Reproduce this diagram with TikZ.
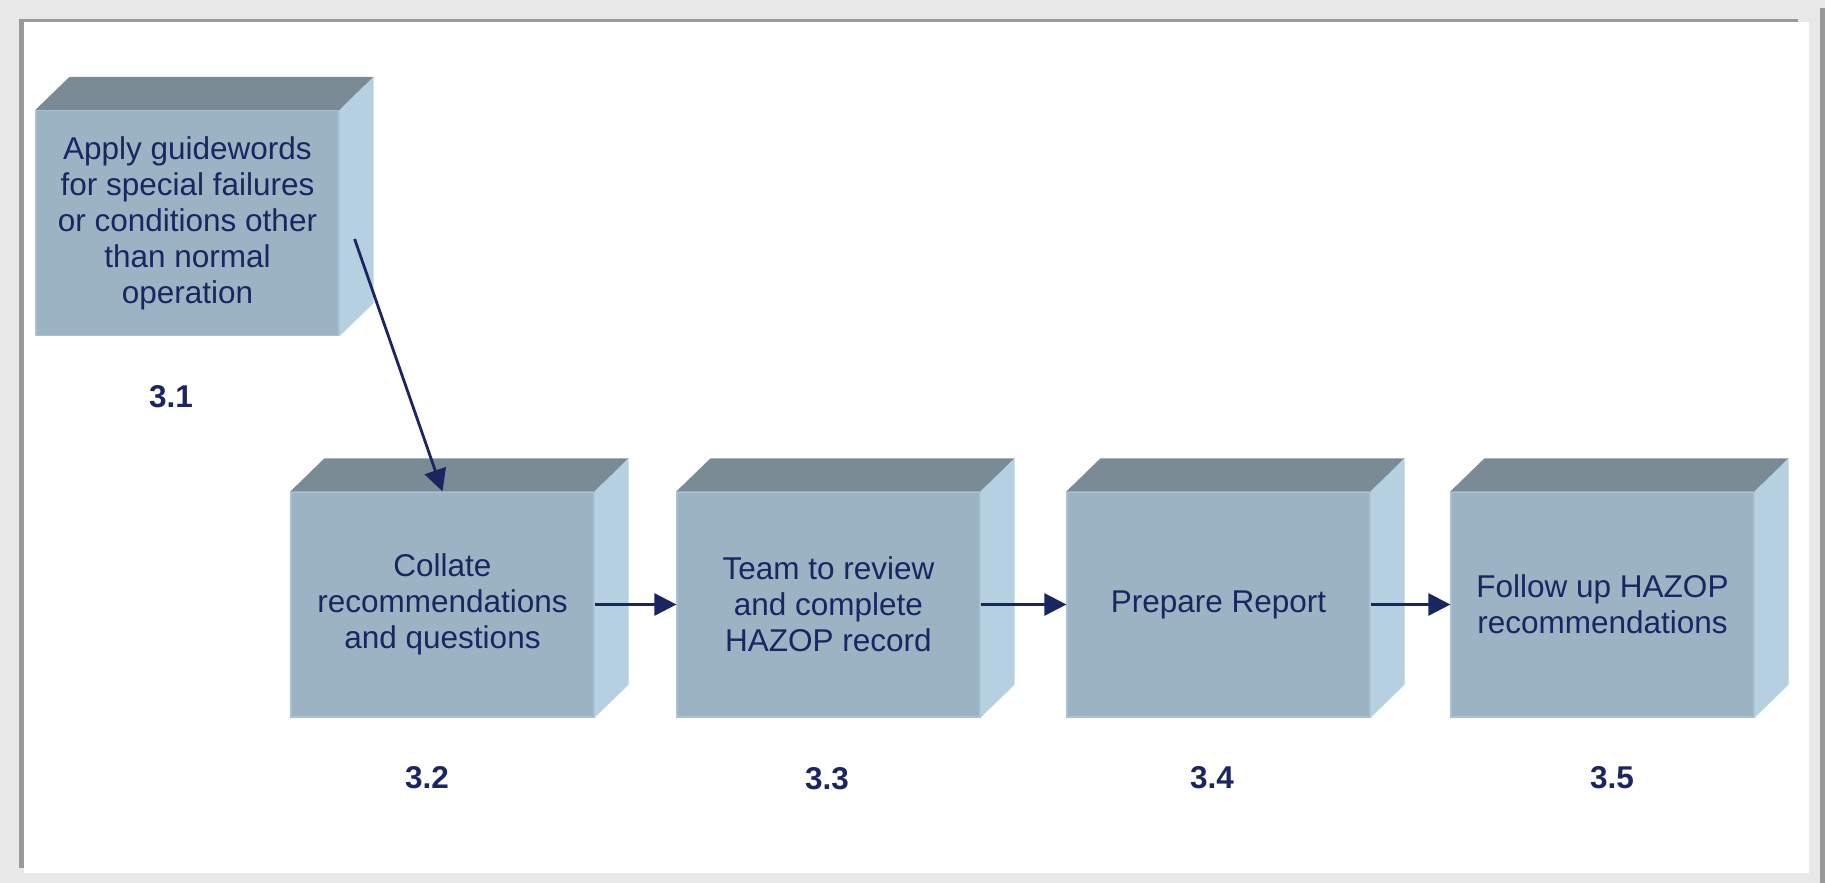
\documentclass[tikz,border=0pt]{standalone}
\usepackage{fontspec}
\setmainfont{Liberation Sans}
\usetikzlibrary{arrows.meta,calc}
\definecolor{framegrey}{HTML}{E8E8E8}
\definecolor{framedark}{HTML}{999999}
\definecolor{boxfront}{HTML}{9CB3C3}
\definecolor{boxtop}{HTML}{7A8B96}
\definecolor{boxside}{HTML}{B4D0E1}
\definecolor{boxedge}{HTML}{A9C1D1}
\definecolor{navy}{HTML}{1B2561}
\tikzset{
 stepbox/.style={rectangle,fill=boxfront,draw=boxedge,line width=1.2pt,minimum width=303pt,minimum height=225pt,inner sep=0pt,text=navy,align=center,font=\fontsize{31.5}{36}\selectfont},
 steplabel/.style={text=navy,font=\fontsize{31.5}{36}\selectfont\bfseries},
 flow/.style={draw=navy,line width=2.8pt,-{Triangle[length=22pt,width=22pt]}}
}
\begin{document}
\begin{tikzpicture}[x=1pt,y=-1pt]
 \useasboundingbox (0,0) rectangle (1825,883);
 \fill[framegrey](0,0) rectangle (1825,883);
 \fill[white](24,22) rectangle (1809,873);
 \fill[framedark](19,19) rectangle (24,868);
 \fill[framedark](19,19) rectangle (1798,22);
 \fill[framedark](1820,8) rectangle (1825,883);

 \node[stepbox] (s31) at (187.5,223) {Apply guidewords\\for special failures\\or conditions other\\than normal\\operation};
 \node[stepbox] (s32) at (442.5,604.5) {Collate\\recommendations\\and questions};
 \node[stepbox] (s33) at (828.5,604.5) {Team to review\\and complete\\HAZOP record};
 \node[stepbox] (s34) at (1218.5,604.5) {Prepare Report};
 \node[stepbox] (s35) at (1602.5,604.5) {Follow up HAZOP\\recommendations};

 \fill[boxtop](s31.north west)--++(34,-33)--($(s31.north east)+(34,-33)$)--(s31.north east)--cycle;
 \fill[boxside](s31.north east)--($(s31.north east)+(34,-33)$)--($(s31.south east)+(34,-33)$)--(s31.south east)--cycle;
 \fill[boxtop](s32.north west)--++(34,-33)--($(s32.north east)+(34,-33)$)--(s32.north east)--cycle;
 \fill[boxside](s32.north east)--($(s32.north east)+(34,-33)$)--($(s32.south east)+(34,-33)$)--(s32.south east)--cycle;
 \fill[boxtop](s33.north west)--++(34,-33)--($(s33.north east)+(34,-33)$)--(s33.north east)--cycle;
 \fill[boxside](s33.north east)--($(s33.north east)+(34,-33)$)--($(s33.south east)+(34,-33)$)--(s33.south east)--cycle;
 \fill[boxtop](s34.north west)--++(34,-33)--($(s34.north east)+(34,-33)$)--(s34.north east)--cycle;
 \fill[boxside](s34.north east)--($(s34.north east)+(34,-33)$)--($(s34.south east)+(34,-33)$)--(s34.south east)--cycle;
 \fill[boxtop](s35.north west)--++(34,-33)--($(s35.north east)+(34,-33)$)--(s35.north east)--cycle;
 \fill[boxside](s35.north east)--($(s35.north east)+(34,-33)$)--($(s35.south east)+(34,-33)$)--(s35.south east)--cycle;

 \node[steplabel] (n31) at (171,397) {3.1};
 \node[steplabel] (n32) at (427,778) {3.2};
 \node[steplabel] (n33) at (827,779) {3.3};
 \node[steplabel] (n34) at (1212,778) {3.4};
 \node[steplabel] (n35) at (1612,778) {3.5};

 \coordinate (c31) at ($(s31.east)+(15,16)$);
 \draw[flow](c31)--(s32.north);
 \draw[flow](s32.east)--(s33.west);
 \draw[flow](s33.east)--(s34.west);
 \draw[flow](s34.east)--(s35.west);
\end{tikzpicture}
\end{document}
